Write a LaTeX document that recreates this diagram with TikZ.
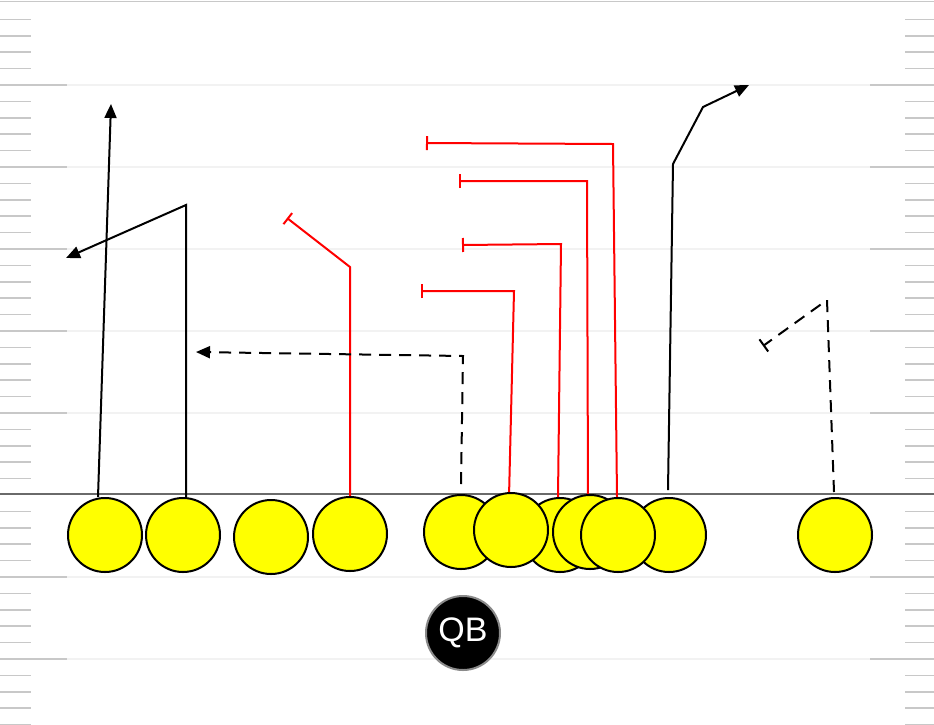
\documentclass[tikz,border=0pt]{standalone}
\usepackage{fontspec}
\setmainfont{Liberation Sans}
\usetikzlibrary{arrows.meta}
\definecolor{hashgray}{HTML}{C8C8C8}
\definecolor{fieldline}{HTML}{F2F2F2}
\definecolor{losgray}{HTML}{6A6A6A}
\definecolor{qbring}{HTML}{8A8A8A}
\definecolor{pyellow}{HTML}{FFFF00}
\definecolor{pred}{HTML}{FF0000}
\begin{document}
\begin{tikzpicture}[x=1pt,y=-1pt,
  player/.style={circle, draw=black, line width=2pt, fill=pyellow, minimum size=74pt, inner sep=0pt},
  qbnode/.style={circle, draw=qbring, line width=2pt, fill=black, minimum size=74pt, inner sep=0pt, text=white, font=\fontsize{34}{34}\selectfont},
  hash/.style={hashgray, line width=1.6pt},
  yardline/.style={fieldline, line width=1.2pt},
  route/.style={black, line width=2pt},
  routearrow/.style={route, -{Triangle[length=14pt,width=12pt]}},
  dashroute/.style={route, dash pattern=on 12pt off 8pt},
  block/.style={pred, line width=2pt, -{Bar[width=14pt,line width=2pt]}},
]
\useasboundingbox (0,0) rectangle (934,724);
\fill[white] (0,0) rectangle (934,724);
% top border
\draw[hashgray, line width=1.2pt] (0,1.5) -- (934,1.5);
% yard lines
\foreach \k in {1,2,3,4,5,7,8} {
  \draw[yardline] (0,{3+82*\k}) -- (934,{3+82*\k});
  \draw[hash] (0,{3+82*\k}) -- (67,{3+82*\k});
  \draw[hash] (870,{3+82*\k}) -- (934,{3+82*\k});
}
% short hash marks
\foreach \k in {0,...,8} {
  \foreach \j in {1,...,4} {
    \draw[hash] (0,{3+82*\k+16.4*\j}) -- (31,{3+82*\k+16.4*\j});
    \draw[hash] (905,{3+82*\k+16.4*\j}) -- (934,{3+82*\k+16.4*\j});
  }
}
% line of scrimmage
\draw[losgray, line width=2.5pt] (0,494) -- (934,494);

% route waypoints
\coordinate (r1s) at (98,497);   \coordinate (r1e) at (111,104);
\coordinate (r2s) at (186,497);  \coordinate (r2a) at (186,205);  \coordinate (r2e) at (66,258);
\coordinate (r3s) at (350,497);  \coordinate (r3a) at (350,267);  \coordinate (r3e) at (287,218);
\coordinate (r4s) at (461,484);  \coordinate (r4a) at (463,356);  \coordinate (r4e) at (196,352);
\coordinate (r5s) at (509,497);  \coordinate (r5a) at (514,291);  \coordinate (r5e) at (421,291);
\coordinate (r6s) at (558,497);  \coordinate (r6a) at (561,244);  \coordinate (r6e) at (462,245);
\coordinate (r7s) at (588,497);  \coordinate (r7a) at (587,181);  \coordinate (r7e) at (459,181);
\coordinate (r8s) at (617,497);  \coordinate (r8a) at (613,144);  \coordinate (r8e) at (426,143);
\coordinate (r9s) at (668,490);  \coordinate (r9a) at (673,164);  \coordinate (r9b) at (703,107);  \coordinate (r9e) at (749,85);
\coordinate (r10s) at (834,492); \coordinate (r10a) at (827,300); \coordinate (r10e) at (763,346);

% routes
\draw[routearrow] (r1s) -- (r1e);
\draw[routearrow] (r2s) -- (r2a) -- (r2e);
\draw[block] (r3s) -- (r3a) -- (r3e);
\draw[dashroute, -{Triangle[length=14pt,width=12pt]}] (r4s) -- (r4a) -- (r4e);
\draw[block] (r5s) -- (r5a) -- (r5e);
\draw[block] (r6s) -- (r6a) -- (r6e);
\draw[block] (r7s) -- (r7a) -- (r7e);
\draw[block] (r8s) -- (r8a) -- (r8e);
\draw[routearrow] (r9s) -- (r9a) -- (r9b) -- (r9e);
\draw[dashroute, -{Bar[width=15pt,line width=2pt]}] (r10s) -- (r10a) -- (r10e);

% players
\node[player] (p1) at (105,535) {};
\node[player] (p2) at (183,535) {};
\node[player] (p3) at (271,537) {};
\node[player] (p4) at (350,534) {};
\node[player] (p5) at (461,532) {};
\node[player] (p7) at (560,535) {};
\node[player] (p6) at (511,530) {};
\node[player] (p8) at (590,532) {};
\node[player] (p10) at (669,535) {};
\node[player] (p9) at (618,535) {};
\node[player] (p11) at (835,535) {};

% quarterback
\node[qbnode] (qb) at (463,633) {QB};
\end{tikzpicture}
\end{document}
